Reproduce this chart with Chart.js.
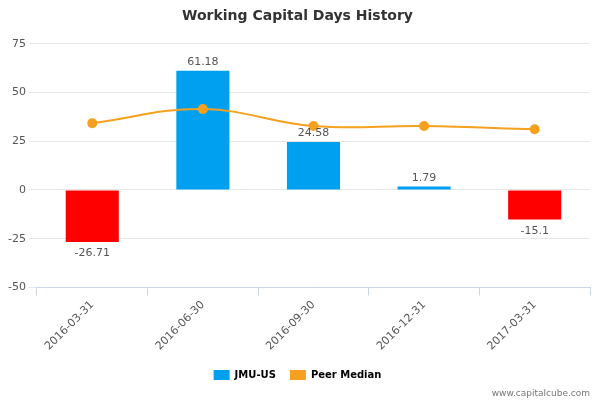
<!DOCTYPE html>
<html><head><meta charset="utf-8">
<script src="https://cdn.jsdelivr.net/npm/chart.js@4"></script>
<style>html,body{margin:0;padding:0;background:#fff}#w{width:600px;height:400px}</style>
</head><body><div id="w"><canvas id="c"></canvas></div>
<script>
const categories=['2016-03-31','2016-06-30','2016-09-30','2016-12-31','2017-03-31'];
const jmuValues=[-26.71,61.18,24.58,1.79,-15.1];
const peerMedian=[34.3,41.5,32.8,32.8,31.2];
const yTicks=[-50,-25,0,25,50,75];
const labelPlugin={id:'lbl',afterDatasetsDraw(ch){
  const ctx=ch.ctx;const meta=ch.getDatasetMeta(0);
  ctx.save();ctx.font='11px "DejaVu Sans"';ctx.fillStyle='#555';ctx.textAlign='center';
  meta.data.forEach((b,i)=>{const v=jmuValues[i];
    if(v>=0){ctx.textBaseline='bottom';ctx.fillText(String(v),b.x,b.y-3);}
    else{ctx.textBaseline='top';ctx.fillText(String(v),b.x,b.y+6);}});
  ctx.font='9px "DejaVu Sans"';ctx.fillStyle='#777';ctx.textAlign='right';ctx.textBaseline='alphabetic';
  ctx.fillText('www.capitalcube.com',590,396);
  ctx.restore();}};
new Chart(document.getElementById('c'),{
  data:{labels:categories,datasets:[
    {type:'bar',label:'JMU-US',data:jmuValues,order:2,
     backgroundColor:jmuValues.map(v=>v<0?'#ff0000':'#00a0f0'),barPercentage:0.6,categoryPercentage:0.8},
    {type:'line',label:'Peer Median',data:peerMedian,order:1,borderColor:'#f5a01e',backgroundColor:'#f5a01e',
     borderWidth:2,pointRadius:4,pointBackgroundColor:'#f5a01e',tension:0.4}
  ]},
  options:{responsive:true,maintainAspectRatio:false,animation:false,
    layout:{padding:{left:5,right:10,top:0,bottom:10}},
    plugins:{
      title:{display:true,text:'Working Capital Days History',color:'#333',font:{family:'DejaVu Sans',size:14,weight:'bold'},padding:{top:8,bottom:19}},
      legend:{position:'bottom',labels:{color:'#333',font:{family:'DejaVu Sans',size:10,weight:'bold'},boxWidth:16,boxHeight:10,padding:14,
        generateLabels(ch){return [
          {text:'JMU-US',fillStyle:'#00a0f0',strokeStyle:'#00a0f0',lineWidth:0,datasetIndex:0},
          {text:'Peer Median',fillStyle:'#f5a01e',strokeStyle:'#f5a01e',lineWidth:0,datasetIndex:1}];}}},
      tooltip:{enabled:false}},
    scales:{
      x:{grid:{display:true,drawOnChartArea:false,color:'#ccd6eb',tickLength:8,offset:true},border:{color:'#ccd6eb'},
         ticks:{color:'#555',font:{family:'DejaVu Sans',size:11},maxRotation:45,minRotation:45}},
      y:{min:-50,max:75,afterBuildTicks(ax){ax.ticks=yTicks.map(v=>({value:v}));},
         grid:{color:'#e6e6e6'},border:{display:false},
         ticks:{color:'#555',font:{family:'DejaVu Sans',size:11}}}
    }},
  plugins:[labelPlugin]});
</script></body></html>
